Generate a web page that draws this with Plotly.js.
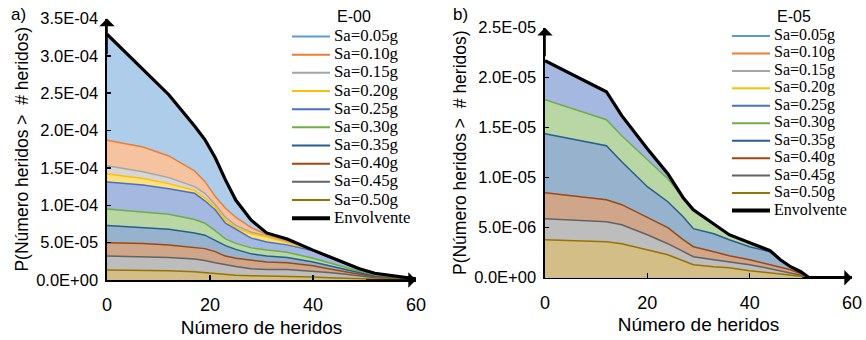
<!DOCTYPE html>
<html>
<head>
<meta charset="utf-8">
<script src="https://cdn.plot.ly/plotly-3.0.1.min.js"></script>
<style>
html,body{margin:0;padding:0;background:#fff;}
#chart{width:866px;height:340px;}
</style>
</head>
<body>
<div id="chart"></div>
<script>
// ---------- categories / labels ----------
const seriesNames = ['Sa=0.05g','Sa=0.10g','Sa=0.15g','Sa=0.20g','Sa=0.25g','Sa=0.30g','Sa=0.35g','Sa=0.40g','Sa=0.45g','Sa=0.50g'];
const envelopeName = 'Envolvente';
const leftLegendTitle = 'E-00';
const rightLegendTitle = 'E-05';
const lineColors = ['#5B9BD5','#ED7D31','#A5A5A5','#FFC000','#4472C4','#70AD47','#255E91','#9E480E','#636363','#997300'];
const fillColors = ['#AECDEA','#F5C3A0','#D6D6D6','#FFE080','#A4B8E0','#B9D7A5','#97B2CC','#D0A68A','#BDBDBD','#D2BE86'];

// ---------- left chart (E-00), values in units of 1E-05 ----------
const leftUnit = 1e-5;
const xLeft       = [0,   7,    12,   17,   19,   21,   23,   25,   28,  31,  35,  40,  43,  46,  49,  52,  56,   60];
const leftSa005   = [32.9,28.1, 24.8, 20.6, 18.8, 16.4, 13.4, 10.7, 8.0, 6.3, 5.5, 4.0, 3.2, 2.4, 1.5, 0.9, 0.5,  0.15];
const leftSa010   = [18.7,17.8, 16.6, 14.6, 13.2, 11.2, 9.6,  8.4,  7.0, 6.1, 5.2, 4.0, 3.2, 2.4, 1.5, 0.85,0.45, 0.12];
const leftSa015   = [15.3,14.5, 13.7, 12.5, 11.6, 10.1, 8.4,  7.3,  6.4, 5.9, 5.1, 4.0, 3.2, 2.4, 1.5, 0.8, 0.45, 0.1];
const leftSa020   = [14.2,13.6, 12.9, 12.0, 11.0, 9.8,  8.0,  7.0,  6.2, 5.8, 5.0, 4.0, 3.2, 2.4, 1.5, 0.8, 0.45, 0.1];
const leftSa025   = [13.1,12.7, 12.2, 11.6, 10.6, 9.4,  7.6,  6.8,  5.6, 5.1, 4.7, 3.9, 3.1, 2.3, 1.4, 0.75,0.4,  0.1];
const leftSa030   = [9.5, 9.1,  8.8,  8.1,  7.6,  6.6,  5.5,  4.9,  4.3, 4.0, 3.7, 2.9, 2.3, 1.7, 1.1, 0.6, 0.3,  0.08];
const leftSa035   = [7.3, 7.0,  6.8,  6.3,  6.0,  5.3,  4.6,  4.1,  3.5, 3.2, 3.0, 2.4, 1.9, 1.4, 0.9, 0.5, 0.25, 0.06];
const leftSa040   = [5.0, 4.9,  4.7,  4.4,  4.2,  3.8,  3.2,  2.9,  2.6, 2.4, 2.3, 1.9, 1.5, 1.1, 0.7, 0.4, 0.2,  0.05];
const leftSa045   = [3.2, 3.1,  3.0,  2.8,  2.6,  2.3,  2.0,  1.8,  1.5, 1.4, 1.4, 1.2, 1.0, 0.8, 0.5, 0.3, 0.15, 0.04];
const leftSa050   = [1.34,1.3,  1.25, 1.1,  1.0,  0.85, 0.7,  0.62, 0.58,0.55,0.5, 0.4, 0.3, 0.22,0.15,0.1, 0.05, 0.02];
const leftEnvelope= [32.9,28.1, 24.8, 20.6, 18.8, 16.4, 13.4, 10.7, 8.0, 6.3, 5.5, 4.0, 3.2, 2.4, 1.5, 0.9, 0.5,  0.15];

// ---------- right chart (E-05), values in units of 1E-06 ----------
const rightUnit = 1e-6;
const xRight       = [0,   12,   15,   20,   24,   27,  29,  33,  36,  40,  44,  46,  48,  50,  51.5,52, 60];
const rightSa005   = [0,   0,    0,    0,    0,    0,   0,   0,   0,   0,   0,   0,   0,   0,   0,   0,  0];
const rightSa010   = [0,   0,    0,    0,    0,    0,   0,   0,   0,   0,   0,   0,   0,   0,   0,   0,  0];
const rightSa015   = [0,   0,    0,    0,    0,    0,   0,   0,   0,   0,   0,   0,   0,   0,   0,   0,  0];
const rightSa020   = [0,   0,    0,    0,    0,    0,   0,   0,   0,   0,   0,   0,   0,   0,   0,   0,  0];
const rightSa025   = [21.7,18.6, 16.2, 12.9, 10.4, 8.0, 6.8, 5.4, 4.3, 3.5, 2.7, 1.8, 1.1, 0.6, 0.05,0,  0];
const rightSa030   = [17.8,15.8, 14.2, 11.8, 9.9,  8.0, 6.8, 5.4, 4.3, 3.5, 2.7, 1.8, 1.1, 0.6, 0.05,0,  0];
const rightSa035   = [14.4,13.2, 11.6, 9.1,  7.6,  6.1, 4.9, 4.4, 3.8, 3.1, 2.6, 1.8, 1.1, 0.6, 0.05,0,  0];
const rightSa040   = [8.5, 7.8,  7.3,  6.0,  5.0,  3.8, 3.1, 2.6, 2.2, 1.8, 1.3, 1.0, 0.8, 0.4, 0.05,0,  0];
const rightSa045   = [5.9, 5.6,  5.3,  4.3,  3.4,  2.6, 2.1, 1.8, 1.6, 1.3, 0.9, 0.7, 0.5, 0.25,0.03,0,  0];
const rightSa050   = [3.8, 3.6,  3.4,  2.8,  2.3,  1.7, 1.3, 1.1, 1.0, 0.7, 0.5, 0.4, 0.3, 0.15,0.02,0,  0];
const rightEnvelope= [21.7,18.6, 16.2, 12.9, 10.4, 8.0, 6.8, 5.4, 4.3, 3.5, 2.7, 1.8, 1.1, 0.6, 0.05,0,  0];

// ---------- ticks ----------
const xTickVals = [0, 20, 40, 60];
const xTickText = ['0', '20', '40', '60'];
const leftYTickVals = [0, 5e-5, 1e-4, 1.5e-4, 2e-4, 2.5e-4, 3e-4, 3.5e-4];
const leftYTickText = ['0.0E+00','5.0E-05','1.0E-04','1.5E-04','2.0E-04','2.5E-04','3.0E-04','3.5E-04'];
const rightYTickVals = [0, 5e-6, 1e-5, 1.5e-5, 2e-5, 2.5e-5];
const rightYTickText = ['0.0E+00','5.0E-06','1.0E-05','1.5E-05','2.0E-05','2.5E-05'];
const xTitle = 'Número de heridos';
const yTitle = 'P(Número heridos > \u00a0# heridos)';

const leftSeries = [leftSa005,leftSa010,leftSa015,leftSa020,leftSa025,leftSa030,leftSa035,leftSa040,leftSa045,leftSa050];
const rightSeries = [rightSa005,rightSa010,rightSa015,rightSa020,rightSa025,rightSa030,rightSa035,rightSa040,rightSa045,rightSa050];

// ---------- build ----------
const W = 866, H = 340;
const px = v => v / W;
const py = v => 1 - v / H;
const SANS = 'Liberation Sans, Arial, sans-serif';
const SERIF = 'Liberation Serif, Times New Roman, serif';

const traces = [];
function addChart(xs, series, env, unit, xa, ya) {
  series.forEach((s, i) => {
    traces.push({
      type: 'scatter', mode: 'lines', x: xs, y: s.map(v => v * unit),
      fill: 'tozeroy', fillcolor: fillColors[i],
      line: { color: lineColors[i], width: 1.5 },
      name: seriesNames[i], xaxis: xa, yaxis: ya, showlegend: false, hoverinfo: 'skip'
    });
  });
  traces.push({
    type: 'scatter', mode: 'lines', x: xs, y: env.map(v => v * unit),
    line: { color: '#000', width: 3.2 },
    name: envelopeName, xaxis: xa, yaxis: ya, showlegend: false, hoverinfo: 'skip'
  });
}
addChart(xLeft, leftSeries, leftEnvelope, leftUnit, 'x', 'y');
addChart(xRight, rightSeries, rightEnvelope, rightUnit, 'x2', 'y2');

function xAxisDef(domain, anchor) {
  return {
    domain: domain, anchor: anchor, range: [0, 60],
    tickmode: 'array', tickvals: xTickVals, ticktext: xTickText,
    ticks: 'inside', ticklen: 5, tickwidth: 1.5, tickcolor: '#000',
    showline: true, linecolor: '#000', linewidth: 1.6,
    showgrid: false, zeroline: false, ticklabelstandoff: 8,
    tickfont: { family: SANS, size: 18, color: '#000' },
    title: { text: xTitle, font: { family: SANS, size: 19, color: '#000' }, standoff: 6 },
    fixedrange: true
  };
}
function yAxisDef(domain, anchor, range, vals, text) {
  return {
    domain: domain, anchor: anchor, range: range,
    tickmode: 'array', tickvals: vals, ticktext: text,
    ticks: 'inside', ticklen: 4, tickwidth: 1.5, tickcolor: '#000',
    showline: true, linecolor: '#000', linewidth: 1.6,
    showgrid: false, zeroline: false, ticklabelstandoff: 4,
    tickfont: { family: SANS, size: 16.5, color: '#000' },
    title: { text: yTitle, font: { family: SANS, size: 17.5, color: '#000' }, standoff: 3 },
    fixedrange: true
  };
}

const annotations = [];
const shapes = [];
function label(text, x, y, font, size, anchor) {
  annotations.push({ xref: 'paper', yref: 'paper', x: px(x), y: py(y), text: text,
    showarrow: false, xanchor: anchor || 'left', yanchor: 'middle',
    font: { family: font, size: size, color: '#000' } });
}
label('a)', 9, 15, SANS, 17);
label('b)', 451, 15, SANS, 17);

function legend(title, titleX, textX, lineX0, lineX1, y0, step, size) {
  label(title, titleX, 16.5, SANS, 16);
  const names = seriesNames.concat([envelopeName]);
  const cols = lineColors.concat(['#000']);
  names.forEach((n, i) => {
    const y = y0 + i * step;
    label(n, textX, y, SERIF, size);
    shapes.push({ type: 'line', xref: 'paper', yref: 'paper',
      x0: px(lineX0), x1: px(lineX1), y0: py(y + 1), y1: py(y + 1),
      line: { color: cols[i], width: i === names.length - 1 ? 4 : 2 } });
  });
}
legend(leftLegendTitle, 335, 332, 292, 330, 35.5, 18.17, 16.8);
legend(rightLegendTitle, 775, 772, 732, 770, 35, 17.45, 16);

// axis arrow heads
function arrow(xa, ya, x, y, ax, ay) {
  annotations.push({ xref: xa, yref: ya, axref: xa, ayref: ya, x: x, y: y, ax: ax, ay: ay,
    text: '', showarrow: true, arrowhead: 1, arrowsize: 1.6, arrowwidth: 1.6, arrowcolor: '#000', standoff: 0 });
}
arrow('x', 'y', 0, 3.5e-4, 0, 3.0e-4);
arrow('x', 'y', 60, 0, 50, 0);
arrow('x2', 'y2', 0, 2.5e-5, 0, 2.2e-5);
arrow('x2', 'y2', 60, 0, 50, 0);

const layout = {
  width: W, height: H,
  margin: { l: 0, r: 0, t: 0, b: 0 },
  paper_bgcolor: '#fff', plot_bgcolor: 'rgba(0,0,0,0)',
  showlegend: false,
  xaxis: xAxisDef([px(107), px(416)], 'y'),
  yaxis: yAxisDef([py(280), py(18.5)], 'x', [0, 3.5e-4], leftYTickVals, leftYTickText),
  xaxis2: xAxisDef([px(545), px(852)], 'y2'),
  yaxis2: yAxisDef([py(277.7), py(27.7)], 'x2', [0, 2.5e-5], rightYTickVals, rightYTickText),
  annotations: annotations,
  shapes: shapes
};

Plotly.newPlot('chart', traces, layout, { staticPlot: true, displayModeBar: false });
</script>
</body>
</html>
